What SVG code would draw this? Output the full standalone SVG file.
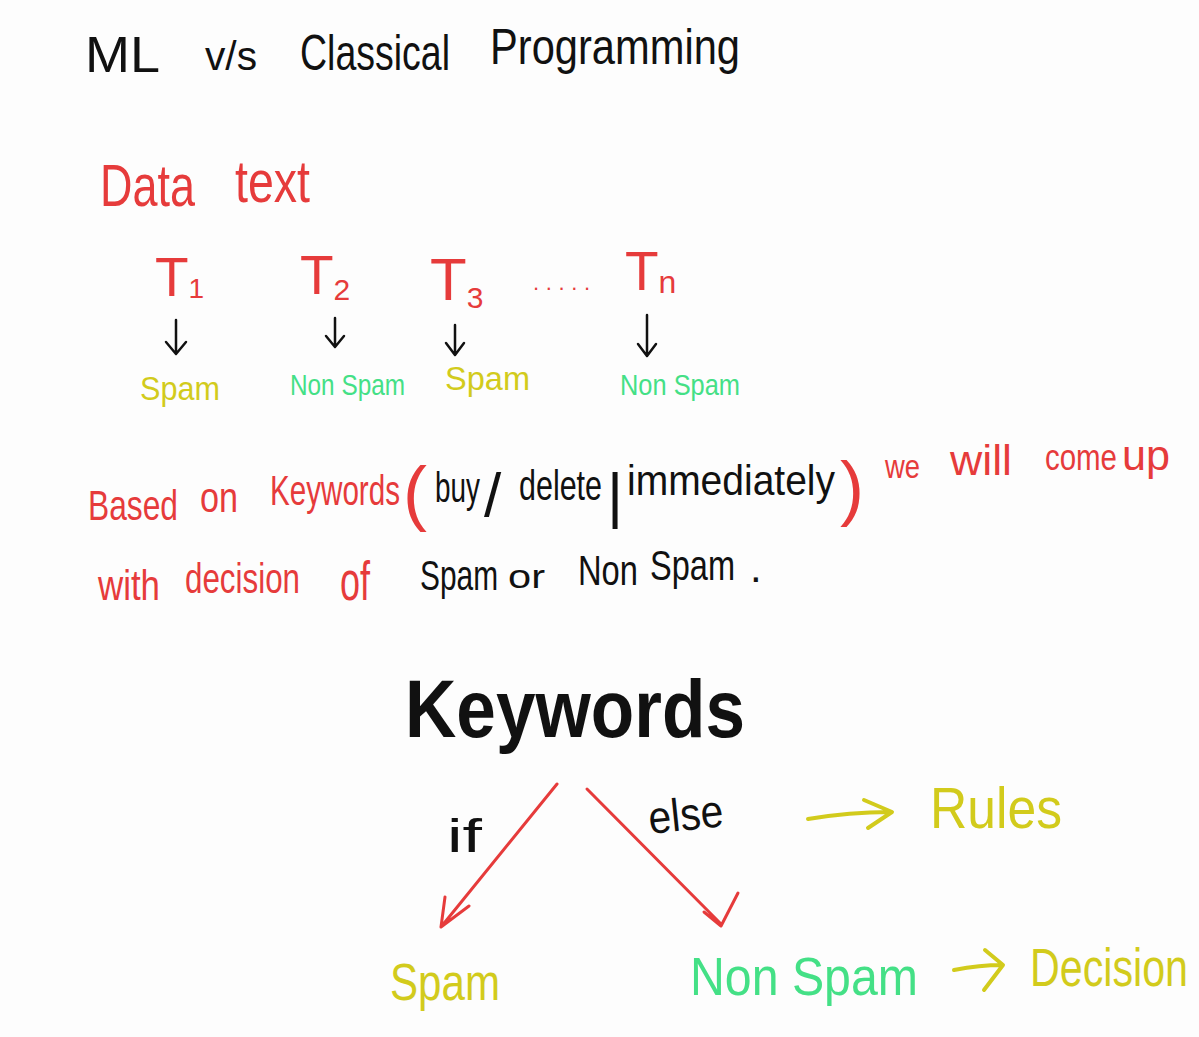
<svg xmlns="http://www.w3.org/2000/svg" width="1199" height="1037" viewBox="0 0 1199 1037">
<style>
text{font-family:"Liberation Sans","DejaVu Sans",sans-serif}
.red{fill:#e63b3b}.yel{fill:#d2cb1c}.grn{fill:#44e086}.blk{fill:#111}
.kb{font-weight:bold}
.ln{fill:none;stroke-linecap:round;stroke-linejoin:round}
.lb{stroke:#111;stroke-width:2.5}
.lr{stroke:#e63b3b;stroke-width:3}
.ly{stroke:#d2cb1c;stroke-width:4}
</style>
<rect width="1199" height="1037" fill="#fdfdfd"/>
<g id="title" class="blk" font-size="50">
<text x="85" y="72" textLength="75" lengthAdjust="spacingAndGlyphs">ML</text>
<text x="205" y="70" textLength="52" lengthAdjust="spacingAndGlyphs" font-size="40">v/s</text>
<text x="300" y="70" textLength="150" lengthAdjust="spacingAndGlyphs">Classical</text>
<text x="490" y="64" textLength="250" lengthAdjust="spacingAndGlyphs">Programming</text>
</g>
<g id="data-text" class="red" font-size="60">
<text x="100" y="206" textLength="95" lengthAdjust="spacingAndGlyphs">Data</text>
<text x="235" y="202" textLength="75" lengthAdjust="spacingAndGlyphs">text</text>
</g>
<g id="t1" class="red"><text x="155" y="296" font-size="55">T<tspan font-size="28" dy="2">1</tspan></text></g>
<g id="t2" class="red"><text x="300" y="294" font-size="55">T<tspan font-size="30" dy="6">2</tspan></text></g>
<g id="t3" class="red"><text x="430" y="300" font-size="60">T<tspan font-size="30" dy="8">3</tspan></text></g>
<g id="dots" class="red"><text x="533" y="290" font-size="22" textLength="57" lengthAdjust="spacing">.....</text></g>
<g id="tn" class="red"><text x="625" y="290" font-size="55">T<tspan font-size="32" dy="3">n</tspan></text></g>
<g id="label1" class="yel"><text x="140" y="400" font-size="34" textLength="80" lengthAdjust="spacingAndGlyphs">Spam</text></g>
<g id="label2" class="grn"><text x="290" y="395" font-size="30" textLength="115" lengthAdjust="spacingAndGlyphs">Non Spam</text></g>
<g id="label3" class="yel"><text x="445" y="390" font-size="34" textLength="85" lengthAdjust="spacingAndGlyphs">Spam</text></g>
<g id="labeln" class="grn"><text x="620" y="395" font-size="30" textLength="120" lengthAdjust="spacingAndGlyphs">Non Spam</text></g>
<g id="sentence" font-size="42">
<text class="red" x="88" y="520" textLength="90" lengthAdjust="spacingAndGlyphs">Based</text>
<text class="red" x="200" y="512" textLength="38" lengthAdjust="spacingAndGlyphs">on</text>
<text class="red" x="270" y="505" textLength="130" lengthAdjust="spacingAndGlyphs">Keywords</text>
<text class="red" x="403" y="517" font-size="72">(</text>
<text class="blk" x="435" y="502" textLength="45" lengthAdjust="spacingAndGlyphs">buy</text>
<text class="blk" x="484" y="516" font-size="62">/</text>
<text class="blk" x="519" y="500" textLength="83" lengthAdjust="spacingAndGlyphs">delete</text>
<text class="blk" x="607" y="516" font-size="62">|</text>
<text class="blk" x="627" y="495" textLength="208" lengthAdjust="spacingAndGlyphs">immediately</text>
<text class="red" x="840" y="512" font-size="72">)</text>
<text class="red" x="885" y="478" textLength="35" lengthAdjust="spacingAndGlyphs" font-size="34">we</text>
<text class="red" x="950" y="475" textLength="62" lengthAdjust="spacingAndGlyphs">will</text>
<text class="red" x="1045" y="470" textLength="72" lengthAdjust="spacingAndGlyphs" font-size="36">come</text>
<text class="red" x="1122" y="470" textLength="48" lengthAdjust="spacingAndGlyphs">up</text>
<text class="red" x="98" y="600" textLength="62" lengthAdjust="spacingAndGlyphs">with</text>
<text class="red" x="185" y="593" textLength="115" lengthAdjust="spacingAndGlyphs">decision</text>
<text class="red" x="340" y="600" textLength="30" lengthAdjust="spacingAndGlyphs" font-size="56">of</text>
<text class="blk" x="420" y="590" textLength="78" lengthAdjust="spacingAndGlyphs">Spam</text>
<text class="blk" x="508" y="588" textLength="37" lengthAdjust="spacingAndGlyphs" font-size="34">or</text>
<text class="blk" x="578" y="585" textLength="60" lengthAdjust="spacingAndGlyphs">Non</text>
<text class="blk" x="650" y="580" textLength="85" lengthAdjust="spacingAndGlyphs">Spam</text>
<text class="blk" x="750" y="582">.</text>
</g>
<g id="keywords" class="blk kb"><text x="405" y="737" font-size="82" textLength="340" lengthAdjust="spacingAndGlyphs">Keywords</text></g>
<g id="if-label" class="blk"><text x="447" y="852" font-size="46" textLength="35" lengthAdjust="spacingAndGlyphs">if</text></g>
<g id="else-label" class="blk"><text x="650" y="834" font-size="46" textLength="75" lengthAdjust="spacingAndGlyphs" transform="rotate(-6 650 834)">else</text></g>
<g id="rules" class="yel"><text x="930" y="828" font-size="58" textLength="132" lengthAdjust="spacingAndGlyphs">Rules</text></g>
<g id="spam-out" class="yel"><text x="390" y="1000" font-size="52" textLength="110" lengthAdjust="spacingAndGlyphs">Spam</text></g>
<g id="nonspam-out" class="grn"><text x="690" y="995" font-size="54" textLength="228" lengthAdjust="spacingAndGlyphs">Non Spam</text></g>
<g id="decision" class="yel"><text x="1030" y="986" font-size="54" textLength="158" lengthAdjust="spacingAndGlyphs">Decision</text></g>
<g id="connectors" class="ln">
<path class="lb" d="M176 320V353M166 342L176 354L186 342"/>
<path class="lb" d="M335 318V346M326 336L335 347L344 336"/>
<path class="lb" d="M455 325V354M446 343L455 355L464 343"/>
<path class="lb" d="M647 315V355M638 344L647 356L656 344"/>
<path class="lr" d="M557 784L441 927M445 897L441 927L469 906"/>
<path class="lr" d="M587 789L721 924M704 912L721 926L738 893"/>
<path class="ly" d="M808 819Q850 812 890 812M864 800L892 812L868 828"/>
<path class="ly" d="M954 970Q980 965 1002 965M985 950L1003 965L984 990"/>
</g>
</svg>
